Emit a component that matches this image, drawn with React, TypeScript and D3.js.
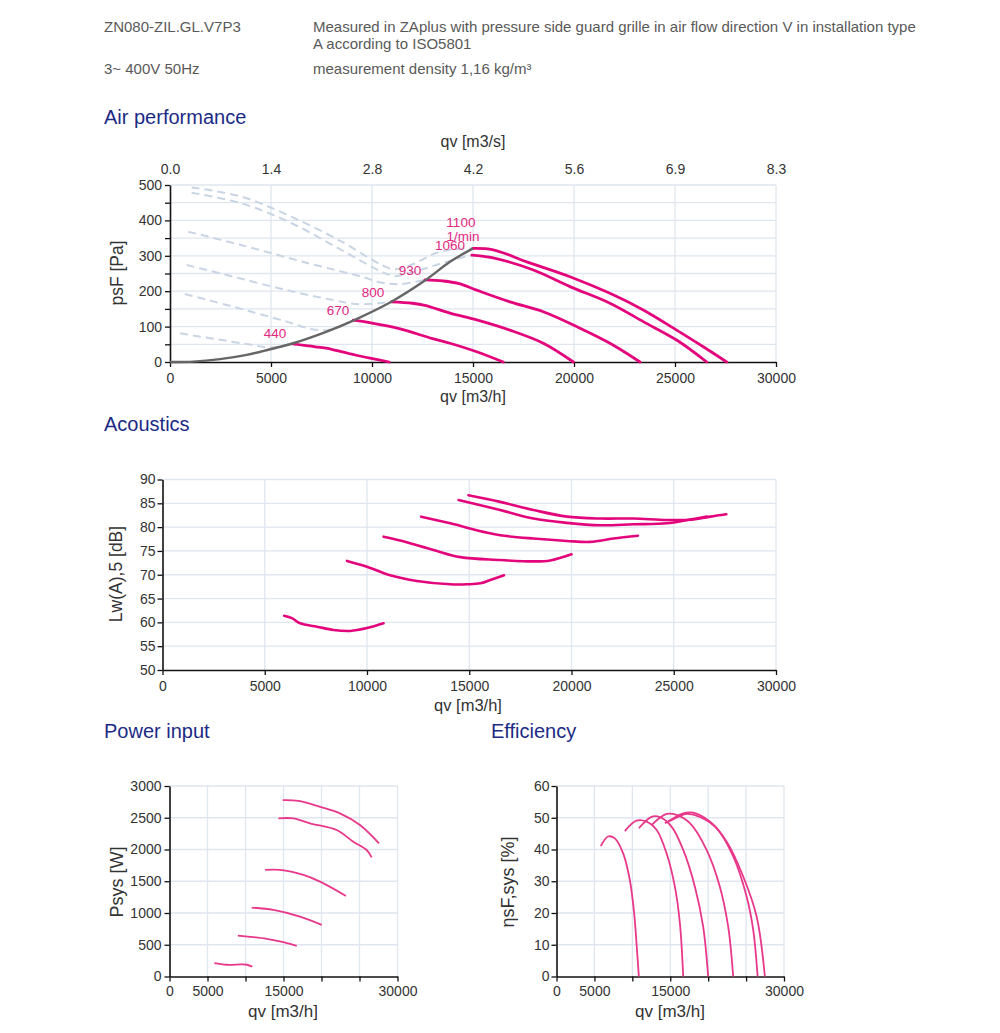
import React, { useEffect, useRef } from 'react';
import * as d3 from 'd3';

type Pt = [number, number];

const FONT = '"Liberation Sans", Arial, Helvetica, sans-serif';
const GRID = '#dfe6ef';
const MAGENTA = '#e3057c';
const PINK = '#e8388b';
const TITLE = '#1b2b85';

// header texts
const headerLeft = ['ZN080-ZIL.GL.V7P3', '3~ 400V 50Hz'];
const headerRight = [
  'Measured in ZAplus with pressure side guard grille in air flow direction V in installation type',
  'A according to ISO5801',
  'measurement density 1,16 kg/m³',
];

// tick values / labels
const qvTicks = [0, 5000, 10000, 15000, 20000, 25000, 30000];
const qvTopLabels = ['0.0', '1.4', '2.8', '4.2', '5.6', '6.9', '8.3'];
const smallQvLabels = [0, 5000, 15000, 30000];
const psTicks = [0, 50, 100, 150, 200, 250, 300, 350, 400, 450, 500];
const dbTicks = [50, 55, 60, 65, 70, 75, 80, 85, 90];
const pwTicks = [0, 500, 1000, 1500, 2000, 2500, 3000];
const effTicks = [0, 10, 20, 30, 40, 50, 60];

// air performance, qv [m3/h] vs psF [Pa]
const air440: Pt[] = [[6050, 51], [7200, 43], [8000, 36], [8850, 24], [9900, 11], [10850, 0]];
const air670: Pt[] = [[9070, 118], [10000, 110], [11300, 95], [12950, 67], [13860, 53], [15180, 29], [16500, 0]];
const air800: Pt[] = [[10950, 170], [12000, 166], [12620, 160], [13860, 138], [15180, 119], [16830, 90], [18480, 53], [19970, 0]];
const air930: Pt[] = [[12620, 232], [13500, 229], [14270, 222], [15180, 203], [16830, 170], [18480, 142], [20130, 100], [21780, 53], [23270, 0]];
const air1060: Pt[] = [[14950, 302], [16000, 294], [17990, 260], [19800, 213], [21780, 166], [23430, 114], [25080, 62], [26570, 0]];
const air1100: Pt[] = [[15000, 321], [16000, 317], [17660, 283], [19800, 241], [21780, 194], [23430, 147], [25080, 90], [26400, 43], [27560, 0]];

// unstable region (dashed)
const stall440: Pt[] = [[500, 81], [2230, 65], [3880, 50], [5000, 41], [6050, 51]];
const stall670: Pt[] = [[740, 192], [3135, 156], [5780, 114], [7100, 92], [8080, 93], [9070, 118]];
const stall800: Pt[] = [[825, 274], [3135, 241], [5780, 203], [8080, 175], [9400, 163], [10950, 170]];
const stall930: Pt[] = [[906, 368], [3550, 330], [6850, 279], [9490, 241], [10480, 224], [11400, 220], [12620, 232]];
const stall1060: Pt[] = [[1074, 478], [3550, 448], [6025, 392], [8500, 316], [10480, 255], [11140, 243], [12380, 260], [13610, 282], [14950, 302]];
const stall1100: Pt[] = [[1074, 493], [3550, 467], [6025, 410], [8500, 340], [10480, 274], [11140, 262], [12130, 279], [13120, 307], [14110, 319], [15000, 321]];

// system curve
const systemLine: Pt[] = [[0, 0], [1150, 1], [2475, 8], [3800, 20], [4950, 36], [6100, 53], [7760, 86], [9070, 117], [10890, 168], [12620, 230], [13860, 283], [15000, 321]];

// speed labels [text, qv, psF]
const speedLabels: [string, number, number][] = [
  ['440', 5200, 68], ['670', 8320, 133], ['800', 10050, 184], ['930', 11880, 246],
  ['1100', 14400, 382], ['1/min', 14500, 342], ['1060', 13860, 316],
];

// acoustics, qv vs Lw(A),5 [dB]
const ac440: Pt[] = [[5950, 61.4], [6330, 60.9], [6730, 59.8], [7550, 59.1], [8360, 58.4], [9180, 58.2], [10000, 58.8], [10810, 59.8]];
const ac670: Pt[] = [[9020, 72.9], [10000, 71.7], [11130, 69.9], [12440, 68.7], [14070, 68.0], [14890, 68.0], [15540, 68.2], [16030, 68.9], [16700, 69.9]];
const ac800: Pt[] = [[10810, 78.0], [11620, 77.2], [13250, 75.2], [14560, 73.7], [16510, 73.1], [18140, 72.8], [18960, 73.0], [20000, 74.3]];
const ac930: Pt[] = [[12650, 82.2], [14070, 80.8], [15700, 79.0], [16510, 78.3], [18140, 77.6], [19770, 77.1], [20910, 76.9], [22050, 77.6], [23250, 78.2]];
const ac1060: Pt[] = [[14480, 85.7], [16510, 83.6], [18140, 81.8], [19780, 80.9], [21400, 80.4], [23030, 80.6], [24660, 80.8], [25800, 81.6], [26620, 82.2]];
const ac1100: Pt[] = [[14960, 86.7], [16510, 85.3], [18140, 83.6], [19780, 82.2], [21400, 81.8], [23030, 81.8], [24660, 81.5], [25970, 81.6], [26780, 82.2], [27570, 82.7]];

// power input, qv vs Psys [W]
const pw440: Pt[] = [[5900, 210], [7500, 185], [9500, 190], [10200, 185], [10900, 155]];
const pw670: Pt[] = [[8990, 645], [12800, 593], [14980, 541], [16740, 483]];
const pw800: Pt[] = [[10820, 1085], [13670, 1049], [17170, 943], [20030, 813]];
const pw930: Pt[] = [[12580, 1678], [14550, 1678], [17610, 1599], [19800, 1494], [23220, 1269]];
const pw1060: Pt[] = [[14330, 2490], [16300, 2490], [18490, 2412], [22000, 2307], [24180, 2123], [25940, 1992], [26600, 1877]];
const pw1100: Pt[] = [[14900, 2778], [16950, 2767], [19800, 2673], [22430, 2569], [25060, 2385], [27560, 2097]];

// efficiency, qv vs etaSF,sys [%]
const ef440: Pt[] = [[5840, 41.1], [6810, 44.1], [7690, 43.5], [8790, 38.8], [9670, 30.4], [10240, 19.9], [10550, 10.5], [10860, 0]];
const ef670: Pt[] = [[9010, 45.8], [10550, 49.1], [11870, 48.8], [13190, 46.2], [14510, 38.8], [15610, 28.3], [16270, 16.8], [16710, 0]];
const ef800: Pt[] = [[10860, 46.7], [12530, 50.3], [13630, 50.2], [15170, 47.2], [16710, 39.9], [18250, 28.3], [19340, 15.7], [20000, 0]];
const ef930: Pt[] = [[12530, 47.7], [14510, 51.2], [15830, 50.9], [17590, 48.3], [19790, 39.9], [21540, 28.3], [22640, 15.7], [23300, 0]];
const ef1060: Pt[] = [[14290, 48.3], [16050, 50.3], [17150, 51.2], [18900, 50.3], [21110, 46.7], [23300, 37.8], [25070, 25.2], [25940, 14.7], [26520, 0]];
const ef1100: Pt[] = [[14730, 48.8], [16710, 51.4], [18030, 51.6], [20220, 48.8], [22430, 42.5], [24620, 31.5], [26390, 18.9], [27480, 0]];

type Sel = d3.Selection<SVGGElement, unknown, null, undefined>;

const drawPanel = (
  root: Sel,
  x: d3.ScaleLinear<number, number>,
  y: d3.ScaleLinear<number, number>,
  yTicks: number[],
  yFmt: (d: number) => string,
  xFmt: (d: number) => string,
  padX: number,
  padY: number,
) => {
  const g = root.append('g');
  const [x0, x1] = x.range();
  const [y0, y1] = y.range();

  g.append('g').selectAll('line').data(qvTicks.slice(1)).join('line')
    .attr('x1', (d) => x(d)).attr('x2', (d) => x(d))
    .attr('y1', y0).attr('y2', y1)
    .attr('stroke', GRID).attr('stroke-width', 1.3);
  g.append('g').selectAll('line').data(yTicks.slice(1)).join('line')
    .attr('x1', x0).attr('x2', x1)
    .attr('y1', (d) => y(d)).attr('y2', (d) => y(d))
    .attr('stroke', GRID).attr('stroke-width', 1.3);

  const ax = g.append('g').attr('transform', `translate(0,${y0})`)
    .call(d3.axisBottom(x).tickValues(qvTicks).tickSize(5).tickSizeOuter(0).tickPadding(padX).tickFormat((d) => xFmt(+d)));
  const ay = g.append('g').attr('transform', `translate(${x0},0)`)
    .call(d3.axisLeft(y).tickValues(yTicks).tickSize(5).tickSizeOuter(0).tickPadding(padY).tickFormat((d) => yFmt(+d)));

  [ax, ay].forEach((a) => {
    a.select('.domain').attr('stroke', '#111').attr('stroke-width', 1.6);
    a.selectAll('.tick line').attr('stroke', '#111').attr('stroke-width', 1.3);
    a.selectAll('text').attr('font-family', FONT).attr('font-size', 14).attr('fill', '#333');
  });
  return g;
};

const addText = (
  g: Sel, txt: string, px: number, py: number, size: number, fill: string,
  anchor = 'start', rotate = false,
) => {
  g.append('text')
    .attr('transform', `translate(${px},${py})${rotate ? ' rotate(-90)' : ''}`)
    .attr('text-anchor', anchor)
    .attr('font-family', FONT)
    .attr('font-size', size)
    .attr('fill', fill)
    .text(txt);
};

export default function App() {
  const svgRef = useRef<SVGSVGElement | null>(null);

  useEffect(() => {
    if (!svgRef.current) return;
    const svg = d3.select(svgRef.current);
    svg.selectAll('*').remove();
    const root = svg.append('g') as unknown as Sel;

    // Header
    addText(root, headerLeft[0], 104, 32, 15, '#595959');
    addText(root, headerLeft[1], 104, 74, 15, '#595959');
    addText(root, headerRight[0], 313, 32, 15, '#595959');
    addText(root, headerRight[1], 313, 49, 15, '#595959');
    addText(root, headerRight[2], 313, 74, 15, '#595959');

    // Section titles
    addText(root, 'Air performance', 104, 124, 20, TITLE);
    addText(root, 'Acoustics', 104, 431, 20, TITLE);
    addText(root, 'Power input', 104, 738, 20, TITLE);
    addText(root, 'Efficiency', 491, 738, 20, TITLE);

    const smooth = (x: d3.ScaleLinear<number, number>, y: d3.ScaleLinear<number, number>) =>
      d3.line<Pt>().x((d) => x(d[0])).y((d) => y(d[1])).curve(d3.curveCatmullRom.alpha(0.5));

    // ---- Air performance
    const xA = d3.scaleLinear().domain([0, 30000]).range([170, 776]);
    const yA = d3.scaleLinear().domain([0, 500]).range([362, 185]);
    const gA = drawPanel(root, xA, yA, psTicks, (d) => (d % 100 === 0 ? `${d}` : ''), (d) => `${d}`, 6, 3);
    gA.append('g').attr('transform', 'translate(0,185)')
      .call(d3.axisTop(xA).tickValues(qvTicks).tickSize(0).tickPadding(11).tickFormat((_, i) => qvTopLabels[i]))
      .call((a) => a.select('.domain').remove())
      .selectAll('text').attr('font-family', FONT).attr('font-size', 14).attr('fill', '#333');

    const lineA = smooth(xA, yA);
    [stall440, stall670, stall800, stall930, stall1060, stall1100].forEach((s) => {
      gA.append('path').datum(s).attr('d', lineA).attr('fill', 'none')
        .attr('stroke', '#c9d5e4').attr('stroke-width', 2).attr('stroke-dasharray', '8,5');
    });
    [air440, air670, air800, air930, air1060, air1100].forEach((s) => {
      gA.append('path').datum(s).attr('d', lineA).attr('fill', 'none')
        .attr('stroke', MAGENTA).attr('stroke-width', 2.8).attr('stroke-linecap', 'round');
    });
    gA.append('path').datum(systemLine).attr('d', lineA).attr('fill', 'none')
      .attr('stroke', '#666').attr('stroke-width', 2.4);
    speedLabels.forEach(([t, q, p]) => {
      addText(gA, t, xA(q), yA(p), 13.5, '#e2287f', 'middle');
    });
    addText(gA, 'qv [m3/s]', 473, 147, 16, '#333', 'middle');
    addText(gA, 'qv [m3/h]', 473, 402, 16, '#333', 'middle');
    addText(gA, 'psF [Pa]', 123, 273, 17.5, '#333', 'middle', true);

    // ---- Acoustics
    const xB = d3.scaleLinear().domain([0, 30000]).range([162.5, 776]);
    const yB = d3.scaleLinear().domain([50, 90]).range([670, 479.5]);
    const gB = drawPanel(root, xB, yB, dbTicks, (d) => `${d}`, (d) => `${d}`, 6, 2);
    const lineB = smooth(xB, yB);
    [ac440, ac670, ac800, ac930, ac1060, ac1100].forEach((s) => {
      gB.append('path').datum(s).attr('d', lineB).attr('fill', 'none')
        .attr('stroke', MAGENTA).attr('stroke-width', 2.6).attr('stroke-linecap', 'round');
    });
    addText(gB, 'qv [m3/h]', 468, 711, 16.5, '#333', 'middle');
    addText(gB, 'Lw(A),5 [dB]', 122, 574, 17.5, '#333', 'middle', true);

    // ---- Power input
    const xC = d3.scaleLinear().domain([0, 30000]).range([169.5, 397.5]);
    const yC = d3.scaleLinear().domain([0, 3000]).range([976.5, 786]);
    const smallFmt = (d: number) => (smallQvLabels.includes(d) ? `${d}` : '');
    const gC = drawPanel(root, xC, yC, pwTicks, (d) => `${d}`, smallFmt, 5, 3);
    const lineC = smooth(xC, yC);
    [pw440, pw670, pw800, pw930, pw1060, pw1100].forEach((s) => {
      gC.append('path').datum(s).attr('d', lineC).attr('fill', 'none')
        .attr('stroke', PINK).attr('stroke-width', 1.8);
    });
    addText(gC, 'qv [m3/h]', 283, 1017, 17, '#333', 'middle');
    addText(gC, 'Psys [W]', 123, 882, 18, '#333', 'middle', true);

    // ---- Efficiency
    const xD = d3.scaleLinear().domain([0, 30000]).range([556.5, 784]);
    const yD = d3.scaleLinear().domain([0, 60]).range([976.5, 786]);
    const gD = drawPanel(root, xD, yD, effTicks, (d) => `${d}`, smallFmt, 5, 2);
    const lineD = smooth(xD, yD);
    [ef440, ef670, ef800, ef930, ef1060, ef1100].forEach((s) => {
      gD.append('path').datum(s).attr('d', lineD).attr('fill', 'none')
        .attr('stroke', PINK).attr('stroke-width', 1.8);
    });
    addText(gD, 'qv [m3/h]', 670, 1017, 17, '#333', 'middle');
    addText(gD, 'ηsF,sys [%]', 514, 882, 18, '#333', 'middle', true);
  }, []);

  return (
    <div style={{ position: 'absolute', left: 0, top: 0, background: '#fff' }}>
      <svg ref={svgRef} width={1000} height={1033} viewBox="0 0 1000 1033" />
    </div>
  );
}
